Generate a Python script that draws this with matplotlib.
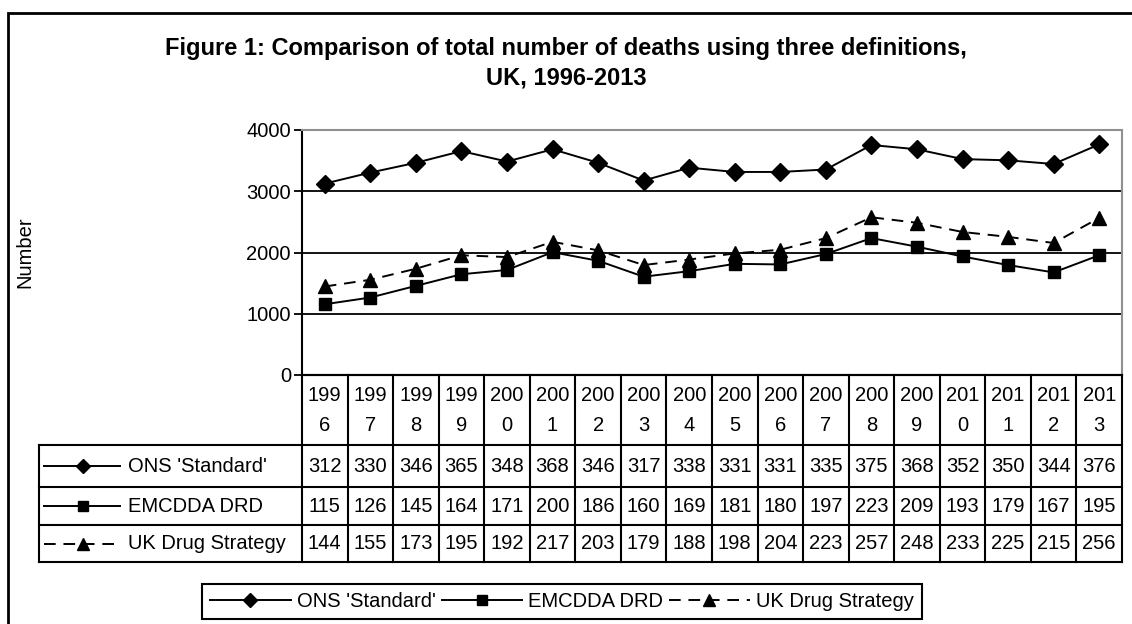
import matplotlib.pyplot as plt
from matplotlib.patches import Rectangle

plt.rcParams['font.family'] = ['Liberation Sans', 'DejaVu Sans']

# data
years = [1996, 1997, 1998, 1999, 2000, 2001, 2002, 2003, 2004,
         2005, 2006, 2007, 2008, 2009, 2010, 2011, 2012, 2013]
series_names = ["ONS 'Standard'", "EMCDDA DRD", "UK Drug Strategy"]
ons = [3125, 3305, 3465, 3655, 3485, 3685, 3465, 3175, 3385,
       3315, 3315, 3355, 3755, 3685, 3525, 3505, 3445, 3765]
emcdda = [1155, 1265, 1455, 1645, 1715, 2005, 1865, 1605, 1695,
          1815, 1805, 1975, 2235, 2095, 1935, 1795, 1675, 1955]
uk_strategy = [1445, 1555, 1735, 1955, 1925, 2175, 2035, 1795, 1885,
               1985, 2045, 2235, 2575, 2485, 2335, 2255, 2155, 2565]
# the data table in the original shows truncated numbers
table_ons = ['312', '330', '346', '365', '348', '368', '346', '317', '338',
             '331', '331', '335', '375', '368', '352', '350', '344', '376']
table_emcdda = ['115', '126', '145', '164', '171', '200', '186', '160', '169',
                '181', '180', '197', '223', '209', '193', '179', '167', '195']
table_uk = ['144', '155', '173', '195', '192', '217', '203', '179', '188',
            '198', '204', '223', '257', '248', '233', '225', '215', '256']
yticks = [0, 1000, 2000, 3000, 4000]

W, H = 1132, 624
FS = 14.5


def fx(px):
    return px / W


def fy(py):
    return 1 - py / H


fig = plt.figure(figsize=(W / 100, H / 100), dpi=100)

# outer chart border (runs off right and bottom edges)
fig.patches.append(Rectangle((fx(8), -0.2), 1.5, fy(13) + 0.2, transform=fig.transFigure,
                             fill=False, lw=2, ec='black'))

fig.text(0.5, fy(48), "Figure 1: Comparison of total number of deaths using three definitions,",
         ha='center', va='center', fontsize=17, weight='bold')
fig.text(0.5, fy(78), "UK, 1996-2013", ha='center', va='center', fontsize=17, weight='bold')
fig.text(fx(25), fy(252), 'Number', rotation=90, ha='center', va='center', fontsize=FS)

# main plot
ax = fig.add_axes([fx(302), fy(375), (1122 - 302) / W, (375 - 130) / H])
x = list(range(len(years)))
styles = [dict(marker='D', ms=9, ls='-'),
          dict(marker='s', ms=8.5, ls='-'),
          dict(marker='^', ms=10, ls=(0, (6, 4)))]
handles = []
for vals, name, st in zip([ons, emcdda, uk_strategy], series_names, styles):
    h, = ax.plot(x, vals, color='black', lw=1.4, mfc='black', mec='black',
                 label=name, clip_on=False, zorder=3, **st)
    handles.append(h)

ax.set_xlim(-0.5, len(years) - 0.5)
ax.set_ylim(0, 4000)
for g in yticks[1:-1]:
    ax.axhline(g, color='black', lw=1.3, zorder=1)
ax.set_yticks(yticks)
ax.set_xticks([])
ax.tick_params(axis='y', length=6, width=1.3, labelsize=FS, pad=2)
ax.spines['left'].set_linewidth(1.5)
ax.spines['bottom'].set_linewidth(1.5)
ax.spines['top'].set_color('#909090')
ax.spines['right'].set_color('#909090')
ax.spines['top'].set_linewidth(1.5)
ax.spines['right'].set_linewidth(1.5)

# data table below the plot
unit = (1122 - 302) / len(years)
left = -0.5 - (302 - 39) / unit
tax = fig.add_axes([fx(39), fy(562), (1122 - 39) / W, (562 - 375) / H])
tax.set_xlim(left, len(years) - 0.5)
tax.set_ylim(187, 0)
tax.axis('off')
rows = [0, 70, 112, 150, 187]
lw = 1.5
tax.plot([-0.5, len(years) - 0.5], [0, 0], color='black', lw=lw, clip_on=False)
for r in rows[1:]:
    tax.plot([left, len(years) - 0.5], [r, r], color='black', lw=lw, clip_on=False)
tax.plot([left, left], [rows[1], rows[-1]], color='black', lw=lw, clip_on=False)
for i in range(len(years) + 1):
    tax.plot([i - 0.5, i - 0.5], [0, rows[-1]], color='black', lw=lw, clip_on=False)

for i, yr in enumerate(years):
    s = str(yr)
    tax.text(i, 20, s[:3], ha='center', va='center', fontsize=FS)
    tax.text(i, 50, s[3:], ha='center', va='center', fontsize=FS)

for k, (vals, name, st) in enumerate(zip([table_ons, table_emcdda, table_uk], series_names, styles)):
    yc = (rows[k + 1] + rows[k + 2]) / 2
    for i, v in enumerate(vals):
        tax.text(i, yc, v, ha='center', va='center', fontsize=FS)
    x0 = left + (44 - 39) / unit
    x1 = left + (120 - 39) / unit
    xm = left + (83 - 39) / unit
    tax.plot([x0, x1], [yc, yc], color='black', lw=1.4, ls=st['ls'], clip_on=False)
    tax.plot([xm], [yc], color='black', marker=st['marker'], ms=st['ms'] * 0.8,
             clip_on=False)
    tax.text(left + (128 - 39) / unit, yc, name, ha='left', va='center', fontsize=FS)

# legend at the bottom
leg = fig.legend(handles=handles, loc='upper left', bbox_to_anchor=(fx(202), fy(584)),
                 ncol=3, fontsize=FS, frameon=True, fancybox=False, framealpha=1,
                 edgecolor='black', handlelength=4, handletextpad=0.3,
                 columnspacing=0.3, borderpad=0.4, borderaxespad=0, markerscale=0.8)
leg.get_frame().set_linewidth(1.5)

fig.savefig('out.png', dpi=100)
